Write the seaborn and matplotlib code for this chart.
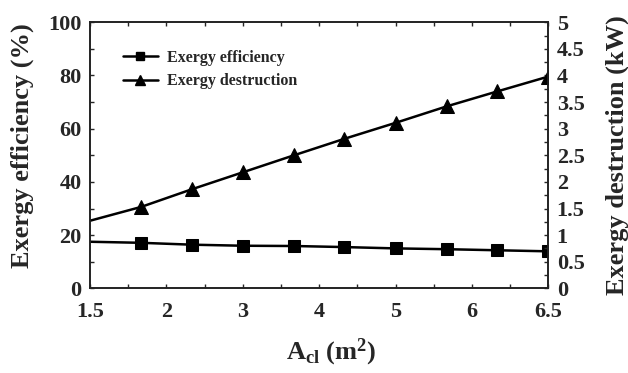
import numpy as np
import pandas as pd
import matplotlib
matplotlib.use("Agg")
import matplotlib.pyplot as plt
import seaborn as sns
from matplotlib.lines import Line2D
from matplotlib.ticker import MultipleLocator

# ---- data ----
area = [1.0, 1.67, 2.33, 3.0, 3.67, 4.33, 5.0, 5.67, 6.33, 7.0]
efficiency = [17.5, 17.1, 16.4, 16.0, 15.9, 15.5, 15.0, 14.7, 14.3, 13.9]
destruction = [1.27, 1.53, 1.86, 2.18, 2.50, 2.81, 3.11, 3.42, 3.70, 3.98]
x_tick_pos = [1, 2, 3, 4, 5, 6, 7]
x_tick_labels = ["1.5", "2", "3", "4", "5", "6", "6.5"]
left_ticks = [0, 20, 40, 60, 80, 100]
right_ticks = [0, 0.5, 1, 1.5, 2, 2.5, 3, 3.5, 4, 4.5, 5]

df = pd.DataFrame({"area": area, "eff": efficiency, "des": destruction})

sns.set_style("ticks")
plt.rcParams["font.family"] = ["Liberation Serif", "DejaVu Serif"]
plt.rcParams["font.weight"] = "bold"
plt.rcParams["mathtext.fontset"] = "custom"
plt.rcParams["mathtext.rm"] = "Liberation Serif:bold"
plt.rcParams["mathtext.bf"] = "Liberation Serif:bold"
plt.rcParams["mathtext.it"] = "Liberation Serif:bold"

fig = plt.figure(figsize=(6.28, 3.73), dpi=100)
ax = fig.add_axes([90 / 628, 1 - 288.3 / 373, (548.3 - 90) / 628, (288.3 - 22.3) / 373])
ax2 = ax.twinx()

sns.lineplot(data=df, x="area", y="eff", ax=ax, color="black", lw=1.8,
             marker="s", markersize=8, markevery=slice(1, None),
             markeredgecolor="black")
sns.lineplot(data=df, x="area", y="des", ax=ax2, color="black", lw=1.8,
             marker="^", markersize=10, markevery=slice(1, None),
             markeredgecolor="black")

ax.set_xlim(1, 7)
ax.set_ylim(0, 100)
ax2.set_ylim(0, 5)

ax.set_xticks(x_tick_pos)
ax.set_xticklabels(x_tick_labels)
ax.xaxis.set_minor_locator(MultipleLocator(0.5))
ax.set_yticks(left_ticks)
ax.yaxis.set_minor_locator(MultipleLocator(10))
ax2.set_yticks(right_ticks)
ax2.set_yticklabels([f"{t:g}" for t in right_ticks])
ax2.yaxis.set_minor_locator(MultipleLocator(0.25))

for a in (ax, ax2):
    for s in a.spines.values():
        s.set_visible(True)
        s.set_color("#222222")
        s.set_linewidth(1.2)

ax.tick_params(axis="x", which="both", direction="in", top=True, length=3,
               width=1, labelsize=16, pad=10)
ax.tick_params(axis="y", which="both", direction="in", length=3, width=1,
               labelsize=16, pad=6)
ax2.tick_params(axis="y", which="both", direction="in", length=3, width=1,
                labelsize=16, pad=6)
for lab in ax.get_xticklabels() + ax.get_yticklabels() + ax2.get_yticklabels():
    lab.set_fontweight("bold")

ax.set_xlabel(r"A$_{\mathbf{cl}}$ (m$^{\mathbf{2}}$)", fontsize=19,
              fontweight="bold")
ax.set_ylabel("Exergy efficiency (%)", fontsize=19, fontweight="bold")
ax2.set_ylabel("Exergy destruction (kW)", fontsize=19, fontweight="bold")
ax.xaxis.set_label_coords(0.526, -0.239)
ax.yaxis.set_label_coords(-0.148, 0.535)
ax2.yaxis.set_label_coords(1.150, 0.50)
ax.xaxis.label.set_va("center")
ax.yaxis.label.set_va("center")
ax2.yaxis.label.set_va("center")

handles = [
    Line2D([], [], color="black", lw=1.8, marker="s", markersize=6),
    Line2D([], [], color="black", lw=1.8, marker="^", markersize=7),
]
ax.legend(handles, ["Exergy efficiency", "Exergy destruction"], loc="upper left",
          bbox_to_anchor=(0.04, 0.95), frameon=False, handlelength=2.2,
          prop={"family": "Liberation Serif", "weight": "bold", "size": 11.5},
          labelspacing=0.45, handletextpad=0.6)

fig.savefig("out.png", dpi=100)
